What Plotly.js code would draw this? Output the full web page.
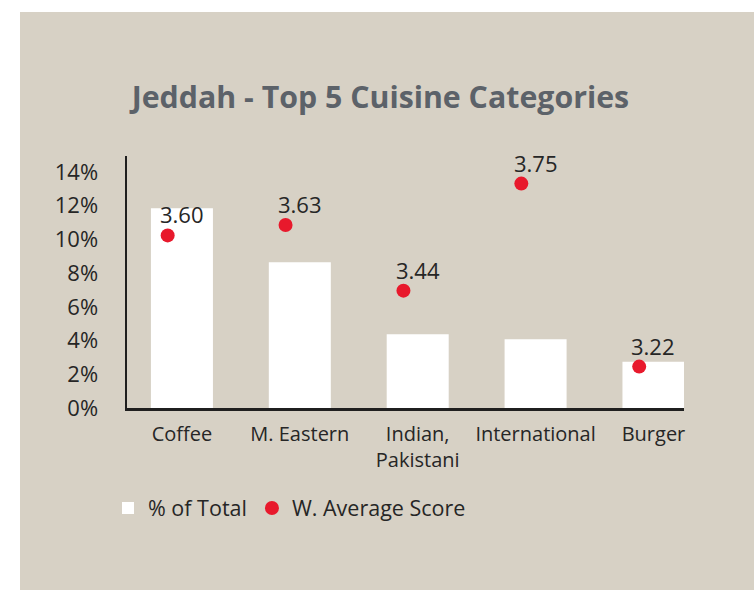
<!DOCTYPE html>
<html>
<head>
<meta charset="utf-8">
<script src="https://cdn.plot.ly/plotly-3.0.1.min.js"></script>
<style>
  html, body { margin: 0; padding: 0; background: #ffffff; }
  #chart { position: absolute; left: 20px; top: 12px; width: 734px; height: 578px; }
</style>
</head>
<body>
<div id="chart"></div>
<script>
// Data
const categories = ["Coffee", "M. Eastern", "Indian, Pakistani", "International", "Burger"];
const tickLabels = ["Coffee", "M. Eastern", "Indian,<br>Pakistani", "International", "Burger"];
const pctOfTotal = [11.85, 8.65, 4.38, 4.08, 2.75];      // % of Total (bars, left axis)
const avgScore = [3.60, 3.63, 3.44, 3.75, 3.22];          // W. Average Score (dots, hidden right axis)
const yTickValues = [0, 2, 4, 6, 8, 10, 12, 14];
const yTickLabels = ["0%", "2%", "4%", "6%", "8%", "10%", "12%", "14%"];

const BG = "#d7d1c5";
const TXT = "#262626";
const FONT = "'Open Sans', 'Noto Sans', sans-serif";

const bars = {
  type: "bar",
  name: "% of Total",
  x: categories,
  y: pctOfTotal,
  xaxis: "x",
  yaxis: "y",
  width: 0.526,
  marker: { color: "#ffffff", line: { width: 0 } },
  hoverinfo: "skip"
};

const dots = {
  type: "scatter",
  mode: "markers",
  name: "W. Average Score",
  x: categories,
  y: avgScore,
  xaxis: "x2",
  yaxis: "y2",
  marker: { color: "#e8192c", size: 14 },
  hoverinfo: "skip"
};

const labelAnnotations = categories.map((c, i) => ({
  xref: "x",
  yref: "y2",
  x: c,
  y: avgScore[i],
  text: avgScore[i].toFixed(2),
  showarrow: false,
  yshift: 21,
  xanchor: "center",
  yanchor: "middle",
  font: { family: FONT, size: 22, color: TXT }
}));

const layout = {
  width: 734,
  height: 578,
  paper_bgcolor: BG,
  plot_bgcolor: BG,
  margin: { l: 107, r: 70, t: 144, b: 182, pad: 0 },
  font: { family: FONT, color: TXT },
  title: {
    text: "<b>Jeddah - Top 5 Cuisine Categories</b>",
    font: { family: FONT, size: 30.3, color: "#5c6269" },
    x: 0.491,
    xanchor: "center",
    xref: "container",
    y: 1 - 85 / 578,
    yanchor: "middle",
    yref: "container"
  },
  xaxis: {
    type: "category",
    categoryorder: "array",
    categoryarray: categories,
    tickvals: categories,
    ticktext: tickLabels,
    range: [-0.466, 4.259],
    showline: true,
    linecolor: "#1f1f1f",
    linewidth: 2.5,
    ticks: "",
    showgrid: false,
    zeroline: false,
    ticklabelstandoff: 6,
    tickfont: { family: FONT, size: 20, color: TXT },
    fixedrange: true
  },
  xaxis2: {
    type: "category",
    categoryorder: "array",
    categoryarray: categories,
    overlaying: "x",
    range: [-0.345, 4.38],
    showline: false,
    showgrid: false,
    zeroline: false,
    showticklabels: false,
    ticks: "",
    fixedrange: true
  },
  yaxis: {
    range: [0, 14.95],
    tickmode: "array",
    tickvals: yTickValues,
    ticktext: yTickLabels,
    showline: true,
    linecolor: "#1f1f1f",
    linewidth: 2.5,
    ticks: "",
    showgrid: false,
    zeroline: false,
    ticklabelstandoff: 22,
    tickfont: { family: FONT, size: 22, color: TXT },
    fixedrange: true
  },
  yaxis2: {
    range: [3.10, 3.83],
    overlaying: "y",
    side: "right",
    showline: false,
    showgrid: false,
    zeroline: false,
    showticklabels: false,
    ticks: "",
    fixedrange: true
  },
  showlegend: true,
  legend: {
    orientation: "h",
    xref: "container",
    yref: "container",
    x: (107 - 19) / 734,
    xanchor: "left",
    y: 1 - 496 / 578,
    yanchor: "middle",
    font: { family: FONT, size: 21.5, color: TXT },
    bgcolor: "rgba(0,0,0,0)",
    itemclick: false,
    itemdoubleclick: false
  },
  annotations: labelAnnotations,
  bargap: 0.5
};

Plotly.newPlot("chart", [bars, dots], layout, { displayModeBar: false, staticPlot: true });
</script>
</body>
</html>
